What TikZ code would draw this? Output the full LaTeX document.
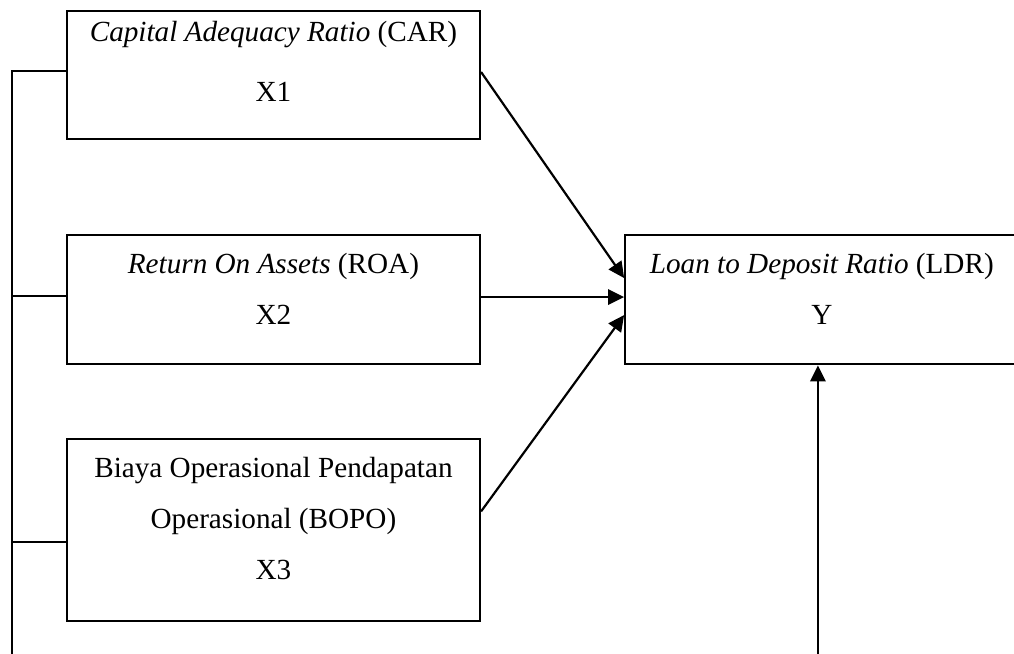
\documentclass[tikz,border=0pt]{standalone}
\usepackage{fontspec}
\setmainfont{Liberation Serif}
\usetikzlibrary{arrows.meta, positioning, calc}

\begin{document}
\begin{tikzpicture} [
    node distance=30pt and 58.8pt,
    box/.style={rectangle, draw, line width=0.9pt, minimum width=169.8pt, minimum height=53pt, inner sep=0pt},
    txt/.style={align=center, inner sep=0pt, font=\fontsize{12pt}{21pt}\selectfont},
    line/.style={draw, line width=0.9pt},
    arrow/.style={draw, line width=0.9pt, -{Triangle[length=6.6pt, width=6.3pt]}}
]
    \useasboundingbox (0,0) rectangle (416.8pt,-268.8pt);

    % Nodes
    \node[box, minimum height=52.6pt] (car) at (112.4pt,-30.8pt) {};
    \node[box, below=38.7pt of car] (roa) {};
    \node[box, minimum height=74.8pt, below=of roa] (bopo) {};
    \node[box, minimum width=164pt, right=of roa] (ldr) {};

    \node[txt, below=4.5pt of car.north, font=\fontsize{12pt}{24.7pt}\selectfont] (car_text) {\textit{Capital Adequacy Ratio} (CAR)\\X1};
    \node[txt, below=7.7pt of roa.north] (roa_text) {\textit{Return On Assets} (ROA)\\X2};
    \node[txt, below=7.4pt of bopo.north] (bopo_text) {Biaya Operasional Pendapatan\\Operasional (BOPO)\\X3};
    \node[txt, below=7.7pt of ldr.north, xshift=-1.2pt] (ldr_text) {\textit{Loan to Deposit Ratio} (LDR)\\Y};

    \coordinate (left_end) at (4.9pt,-268.8pt);
    \coordinate (right_end) at (336.2pt,-268.8pt);

    % Lines on the left
    \path [line] ([yshift=1.6pt]car.west) -- ([yshift=1.6pt]car.west -| left_end) -- (left_end);
    \path [line] ([yshift=1.5pt]roa.west) -- ([yshift=1.5pt]roa.west -| left_end);
    \path [line] ([yshift=-4.9pt]bopo.west) -- ([yshift=-4.9pt]bopo.west -| left_end);

    % Arrows
    \path [arrow] ([yshift=1.2pt]car.east) -- ([yshift=8.9pt]ldr.west);
    \path [arrow] ([yshift=1.1pt]roa.east) -- ([yshift=1.1pt]ldr.west);
    \path [arrow] ([yshift=7.8pt]bopo.east) -- ([yshift=-6.3pt]ldr.west);
    \path [arrow] (right_end) -- (right_end |- ldr.south);

\end{tikzpicture}
\end{document}
